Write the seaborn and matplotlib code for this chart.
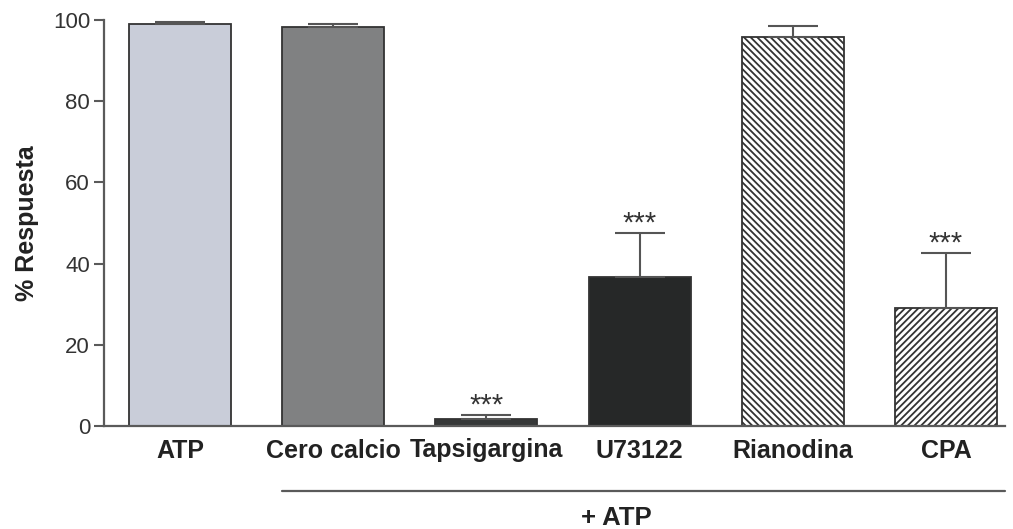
import numpy as np
import pandas as pd
import matplotlib
matplotlib.use("Agg")
import matplotlib.pyplot as plt
import matplotlib.transforms as mtransforms
import seaborn as sns

# Response data (% of control ATP response), mean and SEM
categories = ["ATP", "Cero calcio", "Tapsigargina", "U73122", "Rianodina", "CPA"]
respuesta = [99.0, 98.3, 1.8, 36.8, 95.9, 29.0]
sem = [0.5, 0.7, 0.8, 10.8, 2.5, 13.7]
significance = ["", "", "***", "***", "", "***"]
group_label = "+ ATP"

fills = ["#c9cdd9", "#808182", "#363838", "#262828", "#ffffff", "#ffffff"]
hatches = ["", "", "", "", "\\" * 5, "/" * 5]

sns.set_theme(style="ticks")
plt.rcParams["font.family"] = ["Liberation Sans", "DejaVu Sans"]
plt.rcParams["hatch.linewidth"] = 1.3
plt.rcParams["hatch.color"] = "#333333"

df = pd.DataFrame({"grupo": categories, "respuesta": respuesta})

fig = plt.figure(figsize=(10.13, 5.29), dpi=100)
ax = fig.add_axes([104 / 1013, 1 - 426 / 529, 901 / 1013, 406 / 529])

sns.barplot(data=df, x="grupo", y="respuesta", hue="grupo",
            palette=dict(zip(categories, fills)), width=0.666,
            errorbar=None, legend=False, ax=ax,
            edgecolor="#3a3a3a", linewidth=1.3, zorder=2)

for cont, h, fc in zip(ax.containers, hatches, fills):
    for bar in cont:
        bar.set_facecolor(fc)
        bar.set_hatch(h)
        bar.set_edgecolor("#333333")

xpos = np.arange(len(categories))
ax.errorbar(xpos, respuesta, yerr=[np.zeros(len(sem)), sem], fmt="none",
            ecolor="#555555", elinewidth=1.5, capsize=18, capthick=1.5,
            zorder=3, clip_on=False)

for x, y, e, s in zip(xpos, respuesta, sem, significance):
    if s:
        ax.annotate(s, xy=(x, y + e), xytext=(0, 1), textcoords="offset points",
                    ha="center", va="baseline", fontsize=21, color="#333333")

ax.set_ylim(0, 100)
ax.set_xlim(-0.496, 5.385)
ax.set_yticks([0, 20, 40, 60, 80, 100])
ax.set_xlabel("")
ax.set_ylabel("% Respuesta", fontsize=18, fontweight="bold", color="#222222",
              labelpad=10)

for side in ["top", "right"]:
    ax.spines[side].set_visible(False)
for side in ["left", "bottom"]:
    ax.spines[side].set_color("#5a5a5a")
    ax.spines[side].set_linewidth(1.6)

ax.tick_params(axis="y", length=7, width=1.5, color="#5a5a5a", pad=3,
               labelsize=16, labelcolor="#333333")
ax.tick_params(axis="x", length=0, pad=9, labelsize=18, labelcolor="#222222")
for lbl in ax.get_xticklabels():
    lbl.set_fontweight("bold")

# Bracket line grouping the treatments applied together with ATP
trans = mtransforms.blended_transform_factory(ax.transData, ax.transAxes)
ax.plot([1 - 0.333, 5.385], [-0.16, -0.16], transform=trans, color="#5a5a5a",
        lw=1.6, clip_on=False)
ax.text(2.846, -0.227, group_label, transform=trans, ha="center", va="center",
        fontsize=18.5, fontweight="bold", color="#222222")

fig.savefig("out.png", dpi=100)
